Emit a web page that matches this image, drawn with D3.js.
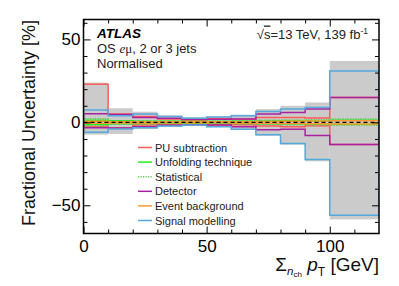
<!DOCTYPE html>
<html><head><meta charset="utf-8">
<script src="https://cdn.jsdelivr.net/npm/d3@7"></script>
<style>body{margin:0;background:#fff}svg{display:block;font-family:"Liberation Sans",Arial,Helvetica,sans-serif}</style>
</head><body><svg id="c" width="399" height="286"></svg>
<script>
// ---- data (percent) ----
const binEdges = [0,10,20,30,40,50,60,70,80,90,100,120];
const totalUp   = [24, 8.5, 6.4, 4.2, 3.0, 3.6, 4.6, 8.0, 10.0, 12.0, 37.0];
const totalDown = [-7.4, -7.0, -4.0, -2.8, -2.2, -2.8, -4.6, -8.0, -13.5, -23.5, -58.5];
const puUp      = [23, 5.0, 3.6, 2.0, 1.2, 2.2, 2.0, 3.0, 3.0, 2.6, 15.0];
const puDown    = [-2.5, -3.4, -1.6, -1.2, -1.0, -1.4, -1.4, -2.2, -2.6, -2.0, -13.4];
const unfUp     = [1.2, 0.9, 0.7, 0.6, 0.5, 0.5, 0.6, 0.8, 0.9, 1.0, 1.2];
const unfDown   = [-1.2, -0.9, -0.7, -0.6, -0.5, -0.5, -0.6, -0.8, -0.9, -1.0, -1.2];
const statUp    = [2.2, 1.0, 0.8, 0.7, 0.7, 0.8, 1.0, 1.2, 1.4, 1.6, 2.0];
const statDown  = [-2.0, -1.0, -0.8, -0.7, -0.7, -0.8, -1.0, -1.2, -1.4, -1.6, -1.8];
const detUp     = [5.2, 4.8, 3.0, 2.4, 1.8, 1.8, 2.0, 5.0, 6.0, 8.0, 15.0];
const detDown   = [-3.2, -3.4, -2.6, -1.8, -1.4, -1.6, -2.6, -4.4, -4.2, -8.0, -13.4];
const bkgUp     = [0.6, 0.4, 0.4, 0.3, 0.3, 0.3, 0.4, 0.5, 0.7, 0.8, 1.0];
const bkgDown   = [-0.6, -0.4, -0.4, -0.3, -0.3, -0.3, -0.4, -0.5, -0.7, -0.8, -1.0];
const sigUp     = [7.4, 4.0, 5.0, 3.6, 2.4, 3.2, 4.0, 6.5, 8.0, 9.0, 31.0];
const sigDown   = [-6.0, -4.0, -3.2, -2.2, -1.6, -2.6, -4.2, -7.4, -12.8, -22.4, -56.0];
const legendLabels = ["PU subtraction","Unfolding technique","Statistical","Detector","Event background","Signal modelling"];
const xMajorTicks = [0,50,100];
const yMajorTicks = [-50,0,50];

const components = [
  {name:legendLabels[0], up:puUp,   down:puDown,   color:"#ff5a5a", dash:null},
  {name:legendLabels[1], up:unfUp,  down:unfDown,  color:"#22ee22", dash:null},
  {name:legendLabels[2], up:statUp, down:statDown, color:"#55cc44", dash:"1.2,1.3"},
  {name:legendLabels[3], up:detUp,  down:detDown,  color:"#a8229f", dash:null},
  {name:legendLabels[4], up:bkgUp,  down:bkgDown,  color:"#ff9933", dash:null},
  {name:legendLabels[5], up:sigUp,  down:sigDown,  color:"#55a8dc", dash:null}
];

const svg = d3.select("#c");
const m = {left:83.5, right:379, top:19.5, bottom:233.5};
const x = d3.scaleLinear().domain([0,120]).range([m.left, m.right]);
const y = d3.scaleLinear().domain([-67,62]).range([m.bottom, m.top]);

svg.append("defs").append("clipPath").attr("id","pc").append("rect")
  .attr("x",m.left).attr("y",m.top).attr("width",m.right-m.left).attr("height",m.bottom-m.top);
const g = svg.append("g").attr("clip-path","url(#pc)");

// total band
const bins = d3.range(totalUp.length).map(i=>({x0:binEdges[i],x1:binEdges[i+1],hi:totalUp[i],lo:totalDown[i]}));
g.selectAll("rect.tot").data(bins).join("rect").attr("class","tot")
  .attr("x",d=>x(d.x0)).attr("width",d=>x(d.x1)-x(d.x0))
  .attr("y",d=>y(d.hi)).attr("height",d=>y(d.lo)-y(d.hi))
  .attr("fill","#cbcbcb");

function stepPts(vals){
  const pts=[[binEdges[0],0]];
  vals.forEach((v,i)=>pts.push([binEdges[i],v]));
  pts.push([binEdges[vals.length],vals[vals.length-1]]);
  pts.push([binEdges[vals.length],0]);
  return pts;
}
const line = d3.line().x(d=>x(d[0])).y(d=>y(d[1])).curve(d3.curveStepAfter);
components.forEach(c=>{
  [c.up,c.down].forEach(vals=>{
    g.append("path").attr("d",line(stepPts(vals))).attr("fill","none")
      .attr("stroke",c.color).attr("stroke-width",1.5)
      .attr("stroke-dasharray",c.dash);
  });
});
// zero line
g.append("line").attr("x1",m.left).attr("x2",m.right).attr("y1",y(0)).attr("y2",y(0))
  .attr("stroke","#000").attr("stroke-width",1.4).attr("stroke-dasharray","4,3");

// axes
const xMinor = d3.range(10,120,10).filter(v=>!xMajorTicks.includes(v));
const yMinor = d3.range(-60,61,10).filter(v=>!yMajorTicks.includes(v));
function styleAx(sel){ sel.select(".domain").remove(); sel.selectAll("line").attr("stroke","#000").attr("stroke-width",1);
  sel.selectAll("text").attr("font-size",17).attr("fill","#000").attr("font-family","Liberation Sans, Arial, sans-serif"); }
svg.append("g").attr("transform",`translate(0,${m.bottom})`)
  .call(d3.axisBottom(x).tickValues(xMajorTicks).tickSize(-7).tickPadding(6)).call(styleAx);
svg.append("g").attr("transform",`translate(0,${m.bottom})`)
  .call(d3.axisBottom(x).tickValues(xMinor).tickSize(-4).tickFormat("")).call(styleAx);
svg.append("g").attr("transform",`translate(0,${m.top})`)
  .call(d3.axisTop(x).tickValues(xMajorTicks).tickSize(-7).tickFormat("")).call(styleAx);
svg.append("g").attr("transform",`translate(0,${m.top})`)
  .call(d3.axisTop(x).tickValues(xMinor).tickSize(-4).tickFormat("")).call(styleAx);
svg.append("g").attr("transform",`translate(${m.left},0)`)
  .call(d3.axisLeft(y).tickValues(yMajorTicks).tickSize(-7).tickPadding(3).tickFormat(d=>d<0?"\u2212"+Math.abs(d):d)).call(styleAx);
svg.append("g").attr("transform",`translate(${m.left},0)`)
  .call(d3.axisLeft(y).tickValues(yMinor).tickSize(-4).tickFormat("")).call(styleAx);
svg.append("g").attr("transform",`translate(${m.right},0)`)
  .call(d3.axisRight(y).tickValues(yMajorTicks).tickSize(-7).tickFormat("")).call(styleAx);
svg.append("g").attr("transform",`translate(${m.right},0)`)
  .call(d3.axisRight(y).tickValues(yMinor).tickSize(-4).tickFormat("")).call(styleAx);
svg.append("rect").attr("x",m.left).attr("y",m.top).attr("width",m.right-m.left).attr("height",m.bottom-m.top)
  .attr("fill","none").attr("stroke","#000").attr("stroke-width",1.5);

// legend
const lg = svg.append("g");
components.forEach((c,i)=>{
  const yy = 147.5 + i*14.6;
  lg.append("line").attr("x1",138).attr("x2",152).attr("y1",yy).attr("y2",yy)
    .attr("stroke",c.color).attr("stroke-width",1.5).attr("stroke-dasharray",c.dash);
  lg.append("text").attr("x",155).attr("y",yy+4).attr("font-size",11).attr("fill","#222").text(c.name);
});

// labels
svg.append("text").attr("x",97).attr("y",37.5).attr("font-size",13.5).attr("font-weight","bold").attr("font-style","italic").text("ATLAS");
const os = svg.append("text").attr("x",97).attr("y",52.5).attr("font-size",13).attr("fill","#222");
os.append("tspan").text("OS ");
os.append("tspan").attr("font-family","Liberation Serif, Times New Roman, serif").attr("font-style","italic").text("e");
os.append("tspan").attr("font-family","Liberation Serif, Times New Roman, serif").text("\u03bc");
os.append("tspan").text(", 2 or 3 jets");
svg.append("text").attr("x",97).attr("y",67.5).attr("font-size",13).attr("fill","#222").text("Normalised");

const en = svg.append("text").attr("x",368).attr("y",38.5).attr("font-size",13).attr("text-anchor","end").attr("fill","#222");
en.append("tspan").text("\u221a");
en.append("tspan").attr("text-decoration","overline").text("s");
en.append("tspan").text("=13 TeV, 139 fb");
en.append("tspan").attr("font-size",8.5).attr("dy",-5).text("-1");

svg.append("text").attr("transform","translate(35,20) rotate(-90)").attr("text-anchor","end")
  .attr("font-size",18).attr("fill","#111").text("Fractional Uncertainty [%]");

const xt = svg.append("text").attr("x",379).attr("y",271).attr("text-anchor","end").attr("font-size",19).attr("fill","#111");
xt.append("tspan").text("\u03a3");
xt.append("tspan").attr("font-size",11.5).attr("font-style","italic").attr("dy",4).text("n");
xt.append("tspan").attr("font-size",8).attr("dy",2).text("ch");
xt.append("tspan").attr("dy",-6).text(" ");
xt.append("tspan").attr("font-style","italic").text("p");
xt.append("tspan").attr("font-size",12).attr("dy",5).text("T");
xt.append("tspan").attr("dy",-5).text(" [GeV]");
</script></body></html>
